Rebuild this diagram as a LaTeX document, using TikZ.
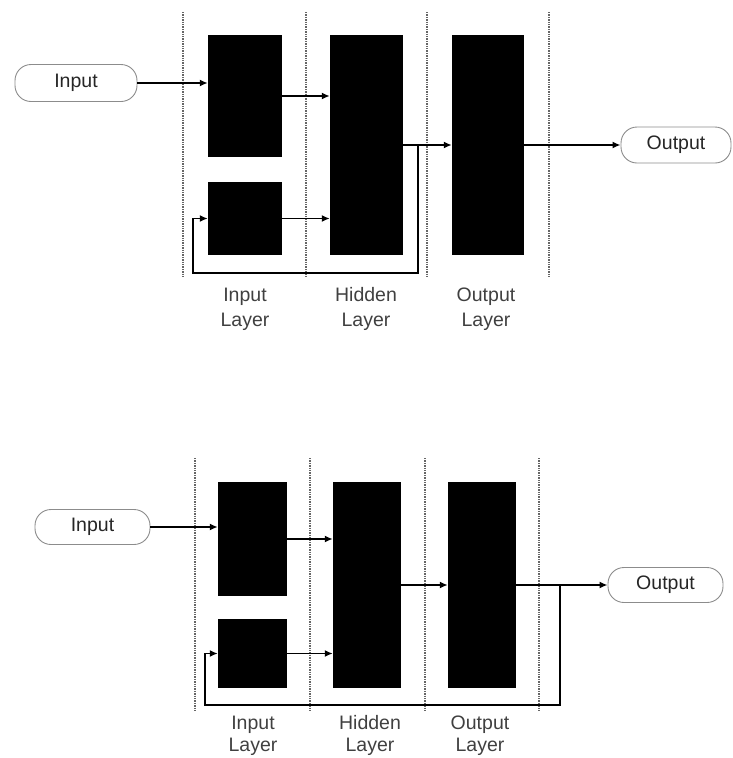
\documentclass[tikz,border=0pt]{standalone}
\usepackage{fontspec}
\setmainfont{Liberation Sans}
\usetikzlibrary{arrows.meta}
\begin{document}
\begin{tikzpicture}[x=1pt,y=-1pt,
  blk/.style={fill=black,draw=none,inner sep=0pt},
  term/.style={draw=black!45,line width=0.9pt,rounded corners=16pt,inner sep=0pt,font=\fontsize{19.5}{22}\selectfont,text=black!85},
  arr/.style={line width=1.6pt,-{Latex[length=8pt,width=7pt]}},
  sep/.style={draw=black!60,line width=1.4pt,densely dotted},
  lab/.style={align=center,font=\fontsize{19.5}{25}\selectfont,text=black!75}]
\useasboundingbox (0,0) rectangle (732,758);
% ---------- top diagram ----------
\foreach \x in {183,306,427,549} \draw[sep] (\x,12) -- (\x,278);
\node[term,minimum width=122pt,minimum height=37pt] (in1) at (76,83) {Input};
\node[blk,minimum width=74pt,minimum height=122pt] (tb1) at (245,96) {};
\node[blk,minimum width=74pt,minimum height=73pt] (bb1) at (245,218.5) {};
\node[blk,minimum width=73pt,minimum height=220pt] (hid1) at (366.5,145) {};
\node[blk,minimum width=72pt,minimum height=220pt] (out1) at (488,145) {};
\node[term,minimum width=110pt,minimum height=36pt] (on1) at (676,145) {Output};
\draw[arr] (in1.east) -- (tb1.west |- in1.east);
\draw[arr] (tb1.east) -- (hid1.west |- tb1.east);
\draw[arr] (bb1.east) -- (hid1.west |- bb1.east);
\draw[arr] (hid1.east) -- (out1.west);
\draw[arr] (out1.east) -- (on1.west);
\coordinate (j1) at (418,145);
\coordinate (f1) at (193,273);
\draw[arr] (j1) |- (f1) |- (bb1.west);
\node[lab] (l1a) at (245,309) {Input\strut\\Layer\strut};
\node[lab] (l1b) at (366,309) {Hidden\strut\\Layer\strut};
\node[lab] (l1c) at (486,309) {Output\strut\\Layer\strut};
% ---------- bottom diagram ----------
\foreach \x in {195,310,425,539} \draw[sep] (\x,458) -- (\x,712);
\node[term,minimum width=115pt,minimum height=35pt] (in2) at (92.5,527) {Input};
\node[blk,minimum width=69pt,minimum height=114pt] (tb2) at (252.5,539) {};
\node[blk,minimum width=69pt,minimum height=69pt] (bb2) at (252.5,653.5) {};
\node[blk,minimum width=68pt,minimum height=206pt] (hid2) at (367,585) {};
\node[blk,minimum width=68pt,minimum height=206pt] (out2) at (482,585) {};
\node[term,minimum width=115pt,minimum height=35pt] (on2) at (665.5,585) {Output};
\draw[arr] (in2.east) -- (tb2.west |- in2.east);
\draw[arr] (tb2.east) -- (hid2.west |- tb2.east);
\draw[arr] (bb2.east) -- (hid2.west |- bb2.east);
\draw[arr] (hid2.east) -- (out2.west);
\draw[arr] (out2.east) -- (on2.west);
\coordinate (j2) at (560,585);
\coordinate (f2) at (205,705);
\draw[arr] (j2) |- (f2) |- (bb2.west);
\node[lab,font=\fontsize{19.5}{22}\selectfont] (l2a) at (253,736) {Input\strut\\Layer\strut};
\node[lab,font=\fontsize{19.5}{22}\selectfont] (l2b) at (370,736) {Hidden\strut\\Layer\strut};
\node[lab,font=\fontsize{19.5}{22}\selectfont] (l2c) at (480,736) {Output\strut\\Layer\strut};
\end{tikzpicture}
\end{document}
